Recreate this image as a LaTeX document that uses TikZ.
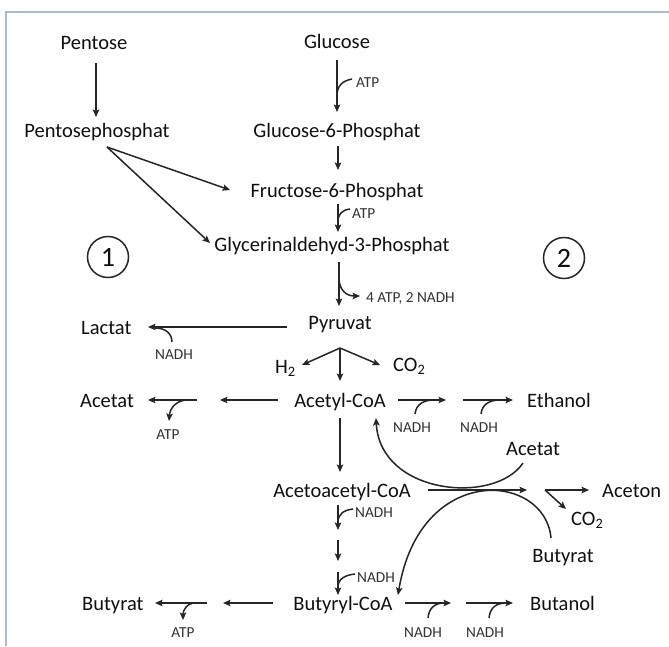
\documentclass[tikz,border=0pt]{standalone}
\usepackage{fontspec}
\setmainfont{Carlito}
\usetikzlibrary{arrows.meta}
\definecolor{framec}{HTML}{A9BCD0}
\definecolor{ink}{HTML}{262626}
\definecolor{txtc}{HTML}{101010}
\definecolor{smallc}{HTML}{333333}
\begin{document}
\begin{tikzpicture}[x=1pt,y=-1pt,
  txt/.style={font=\fontsize{20.5}{22}\selectfont, inner sep=0pt, anchor=base, text=txtc},
  txtw/.style={txt, anchor=base west},
  small/.style={font=\fontsize{15.3}{17}\selectfont, inner sep=0pt, anchor=base, text=smallc},
  smallw/.style={small, anchor=base west},
  arr/.style={draw=ink, line width=1.5pt, -{Stealth[length=7.5pt,width=6.5pt,inset=1.5pt]}},
  ln/.style={draw=ink, line width=1.5pt},
  numc/.style={draw=ink, line width=1.5pt, circle, minimum size=41pt, inner sep=0pt,
    font=\fontsize{28}{30}\selectfont, text=txtc}
]
\useasboundingbox (0,0) rectangle (669,646);
\fill[white] (0,0) rectangle (669,646);
\draw[framec, line width=2pt] (6,646) -- (6,12) -- (669,12);

% main text nodes
\node[txt] (pent) at (94,49) {Pentose};
\node[txt] (glc) at (337,48) {Glucose};
\node[txt] (pp) at (97,137) {Pentosephosphat};
\node[txt] (g6p) at (337,137) {Glucose-6-Phosphat};
\node[txt] (f6p) at (337,197) {Fructose-6-Phosphat};
\node[txt] (g3p) at (332,251) {Glycerinaldehyd-3-Phosphat};
\node[txt] (pyr) at (340,329) {Pyruvat};
\node[txtw] (lac) at (81,334) {Lactat};
\node[txtw] (h2) at (275,373) {H\textsubscript{2}};
\node[txtw] (co2) at (393,371) {CO\textsubscript{2}};
\node[txt] (acoa) at (340,407) {Acetyl-CoA};
\node[txtw] (acl) at (80,407) {Acetat};
\node[txtw] (eth) at (527,407) {Ethanol};
\node[txt] (acr) at (533,455) {Acetat};
\node[txt] (aca) at (342,497) {Acetoacetyl-CoA};
\node[txtw] (acn) at (602,497) {Aceton};
\node[txtw] (co2b) at (571,525) {CO\textsubscript{2}};
\node[txt] (bur) at (563,562) {Butyrat};
\node[txt] (bcoa) at (343,610) {Butyryl-CoA};
\node[txtw] (bul) at (82,610) {Butyrat};
\node[txtw] (btn) at (530,610) {Butanol};

\node[numc] (c1) at (108,257) {1};
\node[numc] (c2) at (564,258) {2};

% small labels
\node[smallw] (atp1) at (356,87) {ATP};
\node[smallw] (atp2) at (352,218) {ATP};
\node[smallw] (atp4) at (366,302) {4 ATP, 2 NADH};
\node[small] (nlac) at (174,359) {NADH};
\node[small] (atpac) at (168,439) {ATP};
\node[small] (ne1) at (412,432) {NADH};
\node[small] (ne2) at (479,432) {NADH};
\node[smallw] (na1) at (355,517) {NADH};
\node[smallw] (na2) at (357,582) {NADH};
\node[small] (nb1) at (423,637) {NADH};
\node[small] (nb2) at (485,637) {NADH};
\node[small] (atpbu) at (183,637) {ATP};

% coordinates for connector ends
\coordinate (p1) at (96,63);   \coordinate (p2) at (96,117);
\coordinate (g1) at (337,60);  \coordinate (g2) at (337,112);
\coordinate (ga) at (352,79);  \coordinate (gj) at (337,96);
\coordinate (s1) at (338,146); \coordinate (s2) at (338,170);
\coordinate (f1) at (338,204); \coordinate (f2) at (338,232);
\coordinate (fa) at (350,209); \coordinate (fj) at (338,222);
\coordinate (pp1) at (107,147);
\coordinate (pf) at (230,190); \coordinate (pg) at (210,243);
\coordinate (y1) at (339,262); \coordinate (y2) at (339,306);
\coordinate (yj) at (339,280); \coordinate (ya) at (360,296);
\coordinate (l1) at (287,327); \coordinate (l2) at (148,327);
\coordinate (ln) at (172,342); \coordinate (lj) at (155,328);
\coordinate (sp) at (340,348);
\coordinate (sh) at (302,365); \coordinate (sd) at (340,381); \coordinate (sc) at (380,365);
\coordinate (a1) at (278,400); \coordinate (a2) at (220,400);
\coordinate (a3) at (197,400); \coordinate (a4) at (148,400);
\coordinate (aj) at (186,400); \coordinate (at) at (169,421);
\coordinate (e1) at (398,400); \coordinate (e2) at (446,400);
\coordinate (e1n) at (415,414); \coordinate (e1j) at (434,400);
\coordinate (e3) at (463,400); \coordinate (e4) at (513,400);
\coordinate (e2n) at (481,414); \coordinate (e2j) at (500,400);
\coordinate (d1) at (340,418); \coordinate (d2) at (340,472);
\coordinate (rc1) at (523,463); \coordinate (rc2) at (376,418);
\coordinate (k1) at (338,505); \coordinate (k2) at (338,530);
\coordinate (k1n) at (353,509); \coordinate (k1j) at (338,522);
\coordinate (k3) at (338,540); \coordinate (k4) at (338,561);
\coordinate (k5) at (338,572); \coordinate (k6) at (338,595);
\coordinate (k2n) at (355,574); \coordinate (k2j) at (338,587);
\coordinate (m1) at (428,490); \coordinate (m2) at (527,490);
\coordinate (ms) at (545,490); \coordinate (m3) at (589,490); \coordinate (m4) at (566,509);
\coordinate (bc1) at (551,538); \coordinate (bc2) at (398,595);
\coordinate (b1) at (273,603); \coordinate (b2) at (223,603);
\coordinate (b3) at (207,603); \coordinate (b4) at (155,603);
\coordinate (bj) at (193,603); \coordinate (bt) at (183,620);
\coordinate (r1) at (405,603); \coordinate (r2) at (451,603);
\coordinate (r1n) at (428,618); \coordinate (r1j) at (444,603);
\coordinate (r3) at (466,603); \coordinate (r4) at (513,603);
\coordinate (r2n) at (489,618); \coordinate (r2j) at (506,603);

% connectors
\draw[arr] (p1) -- (p2);
\draw[arr] (g1) -- (g2);
\draw[ln] (ga) .. controls (342,81) and (337,86) .. (gj);
\draw[arr] (s1) -- (s2);
\draw[arr] (f1) -- (f2);
\draw[ln] (fa) .. controls (342,210) and (338,214) .. (fj);
\draw[arr] (pp1) -- (pf);
\draw[arr] (pp1) -- (pg);
\draw[arr] (y1) -- (y2);
\draw[arr] (yj) .. controls (340,290) and (346,296) .. (ya);
\draw[arr] (l1) -- (l2);
\draw[ln] (ln) .. controls (172,334) and (166,328) .. (lj);
\draw[arr] (sp) -- (sh);
\draw[arr] (sp) -- (sd);
\draw[arr] (sp) -- (sc);
\draw[arr] (a1) -- (a2);
\draw[arr] (a3) -- (a4);
\draw[arr] (aj) .. controls (176,401) and (170,408) .. (at);
\draw[arr] (e1) -- (e2);
\draw[ln] (e1n) .. controls (416,404) and (424,400) .. (e1j);
\draw[arr] (e3) -- (e4);
\draw[ln] (e2n) .. controls (482,404) and (490,400) .. (e2j);
\draw[arr] (d1) -- (d2);
\draw[arr] (rc1) .. controls (495,505) and (380,495) .. (rc2);
\draw[arr] (k1) -- (k2);
\draw[ln] (k1n) .. controls (344,510) and (338,514) .. (k1j);
\draw[arr] (k3) -- (k4);
\draw[arr] (k5) -- (k6);
\draw[ln] (k2n) .. controls (345,575) and (338,579) .. (k2j);
\draw[arr] (m1) -- (m2);
\draw[arr] (ms) -- (m3);
\draw[arr] (ms) -- (m4);
\draw[arr] (bc1) .. controls (545,472) and (420,462) .. (bc2);
\draw[arr] (b1) -- (b2);
\draw[arr] (b3) -- (b4);
\draw[arr] (bj) .. controls (187,604) and (183,610) .. (bt);
\draw[arr] (r1) -- (r2);
\draw[ln] (r1n) .. controls (429,607) and (436,603) .. (r1j);
\draw[arr] (r3) -- (r4);
\draw[ln] (r2n) .. controls (490,607) and (497,603) .. (r2j);
\end{tikzpicture}
\end{document}
